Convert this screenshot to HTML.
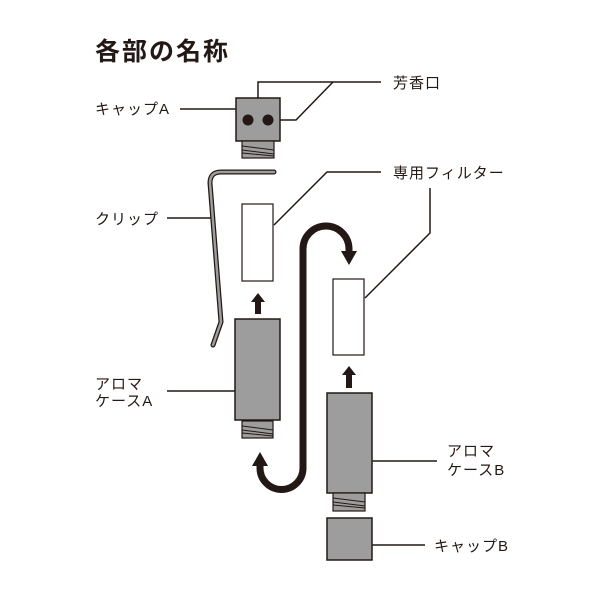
<!DOCTYPE html>
<html><head><meta charset="utf-8"><style>
body{margin:0;background:#fff;}
svg text{font-family:"Liberation Sans","Noto Sans CJK JP",sans-serif;fill:#231815;}
</style></head><body>
<svg width="600" height="600" viewBox="0 0 600 600" xmlns="http://www.w3.org/2000/svg">
<rect width="600" height="600" fill="#fff"/>
<text x="95" y="60" font-size="25" font-weight="bold" letter-spacing="2">各部の名称</text>
<g font-size="15" letter-spacing="1">
<text x="95" y="114">キャップA</text>
<text x="393" y="88">芳香口</text>
<text x="393" y="178">専用フィルター</text>
<text x="95" y="224">クリップ</text>
<text x="95" y="389">アロマ</text>
<text x="95" y="406">ケースA</text>
<text x="447" y="456">アロマ</text>
<text x="447" y="475">ケースB</text>
<text x="434" y="551">キャップB</text>
</g>
<g stroke="#231815" stroke-width="1.5" fill="none">
<line x1="180" y1="109" x2="236" y2="109"/>
<polyline points="258,98 258,82 381,82"/>
<polyline points="270,120 296,120 333,82"/>
<polyline points="274,225 327,172 381,172"/>
<line x1="167" y1="218" x2="212" y2="218"/>
<line x1="167" y1="391" x2="235" y2="391"/>
<polyline points="430,188 430,233 365,298"/>
<line x1="372" y1="461" x2="437" y2="461"/>
<line x1="372" y1="545" x2="425" y2="545"/>
</g>
<rect x="236" y="98" width="44" height="43" fill="#9d9d9d" stroke="#231815" stroke-width="1.5"/>
<circle cx="248" cy="120" r="5.5" fill="#231815"/>
<circle cx="268" cy="120" r="5.5" fill="#231815"/>
<rect x="242" y="141" width="32" height="17" fill="#9d9d9d" stroke="#231815" stroke-width="1.2"/>
<path d="M242 146 L274 150 M242 150 L274 154 M242 153 L274 156" stroke="#231815" stroke-width="1"/>
<path d="M274 172 L221 172 Q210 172 210 183 L221 322 L213 345" fill="none" stroke="#231815" stroke-width="5" stroke-linecap="round" stroke-linejoin="round"/>
<path d="M274 172 L221 172 Q210 172 210 183 L221 322 L213 345" fill="none" stroke="#9d9d9d" stroke-width="2.5" stroke-linecap="round" stroke-linejoin="round"/>
<rect x="242" y="204" width="31" height="77" fill="#fff" stroke="#231815" stroke-width="1.2"/>
<path d="M258 293 L265 302 L261 302 L261 314 L255 314 L255 302 L251 302 Z" fill="#231815"/>
<rect x="235" y="319" width="45" height="101" fill="#9d9d9d" stroke="#231815" stroke-width="1.5"/>
<rect x="242" y="421" width="31" height="17" fill="#9d9d9d" stroke="#231815" stroke-width="1.2"/>
<path d="M242 426 L273 430 M242 430 L273 434 M242 433 L273 436" stroke="#231815" stroke-width="1"/>
<path d="M303 470 L303 249 A23 23 0 0 1 349 249 L349 252" fill="none" stroke="#231815" stroke-width="7"/>
<path d="M341 251 L357 251 L349 265 Z" fill="#231815"/>
<path d="M303 465 L303 468 A21.5 21.5 0 0 1 260 468 L260 466" fill="none" stroke="#231815" stroke-width="7"/>
<path d="M252 466 L268 466 L260 452 Z" fill="#231815"/>
<rect x="333" y="279" width="31" height="76" fill="#fff" stroke="#231815" stroke-width="1.2"/>
<path d="M349 366 L356 375 L352 375 L352 388 L346 388 L346 375 L342 375 Z" fill="#231815"/>
<rect x="327" y="393" width="45" height="100" fill="#9d9d9d" stroke="#231815" stroke-width="1.5"/>
<rect x="333" y="493" width="32" height="18" fill="#9d9d9d" stroke="#231815" stroke-width="1.2"/>
<path d="M333 498 L365 502 M333 502 L365 506 M333 505 L365 508" stroke="#231815" stroke-width="1"/>
<rect x="327" y="518" width="45" height="42" fill="#9d9d9d" stroke="#231815" stroke-width="1.5"/>
</svg>
</body></html>
